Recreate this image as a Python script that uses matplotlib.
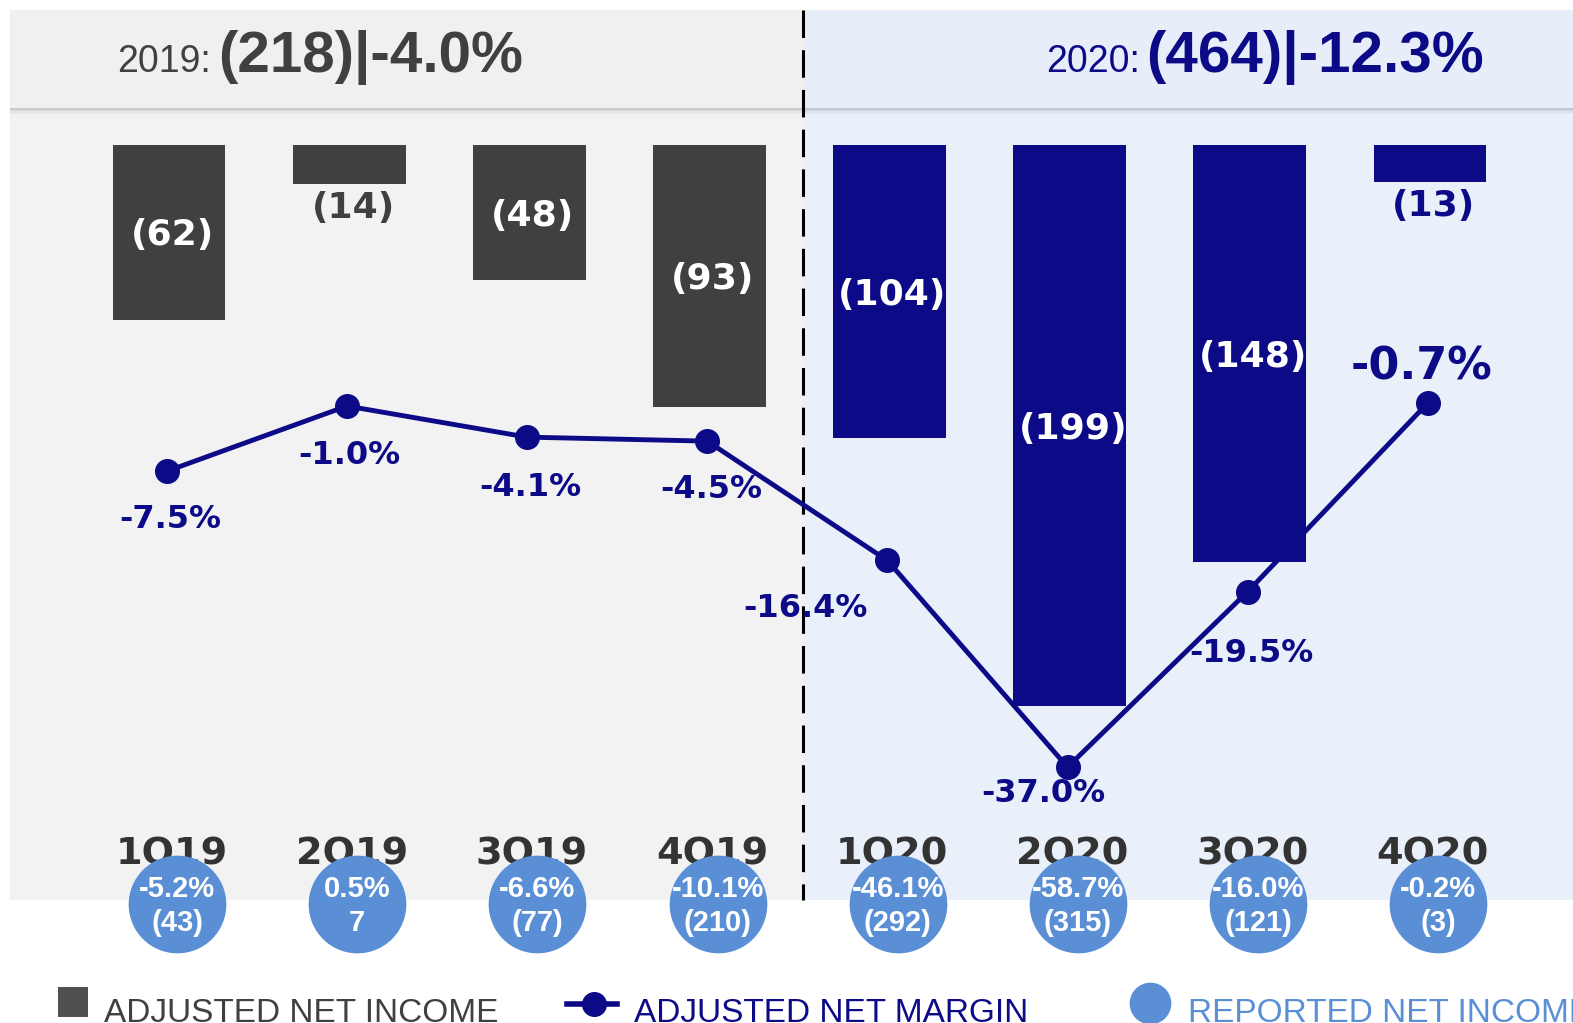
import matplotlib
matplotlib.use("Agg")
import matplotlib.pyplot as plt
from matplotlib.patches import Rectangle
import matplotlib.transforms as mtransforms

# ---------------- data ----------------
quarters = ["1Q19", "2Q19", "3Q19", "4Q19", "1Q20", "2Q20", "3Q20", "4Q20"]
adj_net_income = [-62, -14, -48, -93, -104, -199, -148, -13]
adj_net_margin = [-7.5, -1.0, -4.1, -4.5, -16.4, -37.0, -19.5, -0.7]
rep_net_margin = ["-5.2%", "0.5%", "-6.6%", "-10.1%", "-46.1%", "-58.7%", "-16.0%", "-0.2%"]
rep_net_income = ["(43)", "7", "(77)", "(210)", "(292)", "(315)", "(121)", "(3)"]
year_totals = {"2019": ("(218)", "-4.0%"), "2020": ("(464)", "-12.3%")}

# ---------------- style ----------------
GREY = "#404040"
NAVY = "#0c0a87"
BLUE = "#5a8fd6"
W, H = 1573, 1023

NARROW = "Liberation Sans"
WIDE = "DejaVu Sans"

fig = plt.figure(figsize=(W / 100, H / 100), dpi=100)
fig.patch.set_facecolor("white")

# background layer in pixel units
bg = fig.add_axes([0, 0, 1, 1], zorder=0)
bg.set_xlim(0, W)
bg.set_ylim(H, 0)
bg.axis("off")

bg.add_patch(Rectangle((10, 10), 793, 890, color="#f2f2f2", lw=0))
bg.add_patch(Rectangle((803, 10), W - 803, 890, color="#e9f0fa", lw=0))
bg.add_patch(Rectangle((10, 10), 793, 98, color="#f0f0f0", lw=0))
bg.add_patch(Rectangle((803, 10), W - 803, 98, color="#e8eef9", lw=0))
# soft shadow under the header strip
for k, a in enumerate([0.35, 0.22, 0.12, 0.05]):
    bg.add_patch(Rectangle((10, 108 + k * 1.5), W - 10, 1.5, color="#7a828c", alpha=a, lw=0))
bg.plot([803, 803], [10, 900], color="black", lw=2.2, ls=(0, (9, 4)))

# header totals
bg.text(117, 72, "2019:", fontsize=27, family=NARROW, color=GREY, va="baseline")
bg.text(218, 72, "%s|%s" % year_totals["2019"], fontsize=42, family=NARROW,
        weight="bold", color=GREY, va="baseline")
bg.text(1484, 72, "%s|%s" % year_totals["2020"], fontsize=42, family=NARROW,
        weight="bold", color=NAVY, va="baseline", ha="right")
bg.text(1140, 72, "2020:", fontsize=27, family=NARROW, color=NAVY, va="baseline", ha="right")

# legend
bg.add_patch(Rectangle((58, 987), 30, 30, color="#505050", lw=0))
bg.text(104, 1022, "ADJUSTED NET INCOME", fontsize=24, family=NARROW, color=GREY, va="baseline")
bg.plot([567, 617], [1004, 1004], color=NAVY, lw=4)
bg.plot([594], [1004], "o", color=NAVY, ms=17)
bg.text(634, 1022, "ADJUSTED NET MARGIN", fontsize=24, family=NARROW, color=NAVY, va="baseline")
bg.plot([1150], [1003], "o", color=BLUE, ms=29)
bg.text(1188, 1022, "REPORTED NET INCOME", fontsize=24, family=NARROW, color=BLUE, va="baseline")

# ---------------- bars ----------------
x = list(range(len(quarters)))
xlim = (-169 / 180.14, (W - 169) / 180.14)

ax = fig.add_axes([0, 0, 1, 1], zorder=1)
ax.patch.set_alpha(0)
ax.axis("off")
ax.set_xlim(*xlim)
ax.set_ylim(-(H - 145) / 2.82, 145 / 2.82)

colors = [GREY] * 4 + [NAVY] * 4
ax.bar(x, adj_net_income, width=0.627, color=colors, zorder=2)

for i, v in enumerate(adj_net_income):
    lab = "(%d)" % abs(v)
    if abs(v) < 30:
        ax.annotate(lab, (i, v), xytext=(4, -24), textcoords="offset pixels",
                    ha="center", va="center", fontsize=26, family=WIDE, weight="bold",
                    color=colors[i])
    else:
        ax.annotate(lab, (i, v / 2), xytext=(3, -3), textcoords="offset pixels",
                    ha="center", va="center", fontsize=26, family=WIDE, weight="bold",
                    color="white")

# quarter names and reported circles
trans = mtransforms.blended_transform_factory(ax.transData, ax.transAxes)
for i, q in enumerate(quarters):
    ax.text(i + 0.015, 1 - 854 / H, q, transform=trans, ha="center", va="center",
            fontsize=27.5, family=WIDE, weight="bold", color="#333333", zorder=3)
cx = [i + 0.045 for i in x]
ax.scatter(cx, [1 - 904 / H] * len(x), s=4950, color=BLUE, transform=trans, zorder=4, lw=0)
for i in x:
    ax.text(cx[i], 1 - 889 / H, rep_net_margin[i], transform=trans, ha="center", va="center",
            fontsize=21, family=NARROW, weight="bold", color="white", zorder=5)
    ax.text(cx[i], 1 - 923 / H, rep_net_income[i], transform=trans, ha="center", va="center",
            fontsize=21, family=NARROW, weight="bold", color="white", zorder=5)

# ---------------- margin line ----------------
ax2 = fig.add_axes([0, 0, 1, 1], zorder=2)
ax2.patch.set_alpha(0)
ax2.axis("off")
ax2.set_xlim(*xlim)
ax2.set_ylim(-(H - 396) / 10.03, 396 / 10.03)
ax2.plot([i - 0.012 for i in x], adj_net_margin, color=NAVY, lw=3.5, marker="o", ms=17)

offsets = [(3, -48), (2, -49), (3, -50), (4, -48), (-82, -48), (-24, -26), (4, -62), (-6, 36)]
for i, m in enumerate(adj_net_margin):
    big = i == len(adj_net_margin) - 1
    ax2.annotate("%.1f%%" % m, (i - 0.012, m), xytext=offsets[i], textcoords="offset pixels",
                 ha="center", va="center", fontsize=32 if big else 23, family=WIDE,
                 weight="bold", color=NAVY)

fig.savefig("out.png", dpi=100)
